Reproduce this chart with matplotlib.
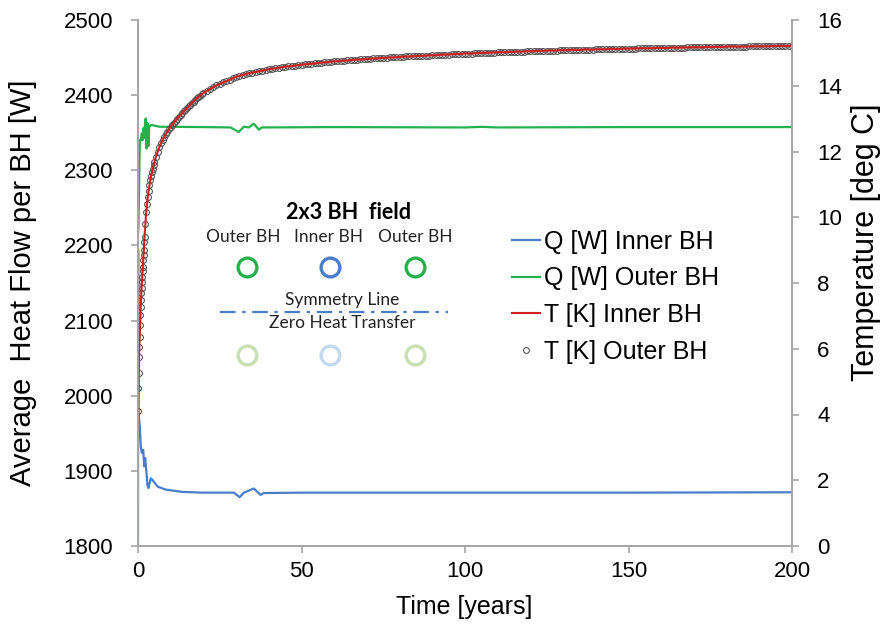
import matplotlib
matplotlib.use('Agg')
import matplotlib.pyplot as plt
from matplotlib.lines import Line2D

plt.rcParams['font.family'] = ['Liberation Sans', 'DejaVu Sans']

# --- data ---
# heat flow per borehole [W]
t_q_inner = [0, 0.05, 0.15, 0.55, 0.86, 1.16, 1.6, 1.9, 2.2, 2.6, 2.9, 3.2, 3.9, 4.4, 6.0, 8.5, 13.6, 20,
             29.3, 31.1, 32.4, 35.4, 37.5, 38.4, 50, 100, 150, 200]
q_inner = [1800, 2194, 1978, 1959, 1932, 1924, 1928, 1906, 1917, 1897, 1881, 1877, 1890, 1888, 1879, 1875, 1872, 1871,
           1871, 1865, 1871, 1876.5, 1868, 1870.5, 1871, 1871, 1871, 1871.5]

t_q_outer = [0, 0.15, 0.55, 0.86, 1.16, 1.4, 1.7, 1.9, 2.2, 2.4, 2.6, 2.9, 3.2, 3.4, 3.9, 4.4, 6.5, 20,
             28.3, 30.8, 32.4, 33.9, 35.4, 37.0, 37.8, 60, 100, 105, 110, 150, 200]
q_outer = [2215, 2226, 2340, 2340, 2349, 2340, 2356, 2343, 2367, 2369, 2329, 2363, 2332, 2358, 2360, 2360, 2358, 2357.5,
           2357, 2351, 2358, 2357, 2362, 2354, 2357, 2357.5, 2357, 2357.8, 2357, 2357.5, 2357.5]

# temperature [deg C]
t_temp = [0.0, 0.1, 0.2, 0.3, 0.4, 0.5, 0.6, 0.7, 0.8, 0.9,
          1.0, 1.1, 1.2, 1.3, 1.4, 1.5, 1.6, 1.7, 1.8, 1.9, 2.0,
          2.25, 2.5, 2.75, 3.0, 3.25, 3.5, 3.75, 4.0, 4.25, 4.5, 4.75, 5.0,
          5.5, 6.0, 6.5, 7.0, 7.5, 8.0, 8.5, 9.0, 9.5, 10.0,
          10.5, 11.0, 11.5, 12.0, 12.5, 13.0, 13.5, 14.0, 14.5, 15.0,
          15.5, 16.0, 16.5, 17.0, 17.5, 18.0, 18.5, 19.0, 19.5, 20.0] + list(range(21, 201))
temp_inner = [4.10, 4.80, 5.27, 5.76, 6.06, 6.37, 6.72, 7.03, 7.28, 7.48,
              7.69, 7.84, 8.02, 8.19, 8.35, 8.50, 8.70, 8.85, 9.00, 9.26, 9.40,
              9.80, 10.15, 10.40, 10.62, 10.80, 10.97, 11.12, 11.25, 11.37, 11.48, 11.58, 11.67,
              11.84, 11.99, 12.13, 12.25, 12.35, 12.44, 12.52, 12.60, 12.68, 12.75,
              12.82, 12.88, 12.94, 13.00, 13.06, 13.11, 13.17, 13.22, 13.27, 13.32,
              13.37, 13.42, 13.47, 13.52, 13.57, 13.62, 13.66, 13.70, 13.74, 13.78,
              13.84, 13.90, 13.96, 14.01, 14.05, 14.10, 14.14, 14.18, 14.23, 14.27,
              14.30, 14.33, 14.35, 14.38, 14.40, 14.42, 14.44, 14.46, 14.48, 14.50,
              14.52, 14.53, 14.55, 14.56, 14.58, 14.59, 14.60, 14.61, 14.63, 14.64,
              14.65, 14.66, 14.67, 14.68, 14.69, 14.70, 14.71, 14.72, 14.73, 14.74,
              14.75, 14.76, 14.76, 14.77, 14.78, 14.79, 14.79, 14.80, 14.81, 14.81,
              14.82, 14.83, 14.83, 14.84, 14.85, 14.85, 14.86, 14.86, 14.87, 14.88,
              14.88, 14.89, 14.89, 14.90, 14.90, 14.91, 14.91, 14.92, 14.92, 14.93,
              14.93, 14.94, 14.94, 14.95, 14.95, 14.96, 14.96, 14.97, 14.97, 14.98,
              14.98, 14.98, 14.99, 14.99, 15.00, 15.00, 15.00, 15.01, 15.01, 15.02,
              15.02, 15.02, 15.03, 15.03, 15.03, 15.04, 15.04, 15.04, 15.05, 15.05,
              15.05, 15.06, 15.06, 15.06, 15.07, 15.07, 15.07, 15.07, 15.08, 15.08,
              15.08, 15.09, 15.09, 15.09, 15.09, 15.10, 15.10, 15.10, 15.10, 15.11,
              15.11, 15.11, 15.11, 15.12, 15.12, 15.12, 15.12, 15.12, 15.13, 15.13,
              15.13, 15.13, 15.14, 15.14, 15.14, 15.14, 15.14, 15.15, 15.15, 15.15,
              15.15, 15.15, 15.16, 15.16, 15.16, 15.16, 15.16, 15.17, 15.17, 15.17,
              15.17, 15.17, 15.17, 15.18, 15.18, 15.18, 15.18, 15.18, 15.18, 15.19,
              15.19, 15.19, 15.19, 15.19, 15.19, 15.19, 15.20, 15.20, 15.20, 15.20,
              15.20, 15.20, 15.20, 15.21, 15.21, 15.21, 15.21, 15.21, 15.21, 15.21]
temp_outer = temp_inner  # both boreholes lie on top of each other

x_ticks = [0, 50, 100, 150, 200]
q_ticks = [1800, 1900, 2000, 2100, 2200, 2300, 2400, 2500]
t_ticks = [0, 2, 4, 6, 8, 10, 12, 14, 16]

blue = '#4a7dc9'
green = '#23b14d'
red = '#d01f1f'
grey = '#a6a6a6'

fig = plt.figure(figsize=(8.8, 6.26), dpi=100)
ax = fig.add_axes([138 / 880, 1 - 546 / 626, 654 / 880, 526 / 626])
ax2 = ax.twinx()

l1, = ax.plot(t_q_inner, q_inner, color=blue, lw=1.6, label='Q [W] Inner BH')
l2, = ax.plot(t_q_outer, q_outer, color=green, lw=1.6, label='Q [W] Outer BH')
l4, = ax2.plot(t_temp, temp_outer, ls='none', marker='o', ms=4.2, mfc='none', mec='#555555', mew=0.8,
               label='T [K] Outer BH')
l3, = ax2.plot(t_temp, temp_inner, color=red, lw=1.5, label='T [K] Inner BH')

ax.set_xlim(0, 200)
ax.set_ylim(1800, 2500)
ax2.set_ylim(0, 16)
ax.set_xticks(x_ticks)
ax.set_yticks(q_ticks)
ax2.set_yticks(t_ticks)

for a in (ax, ax2):
    a.spines['top'].set_visible(False)
    for s in ('left', 'right', 'bottom'):
        a.spines[s].set_color(grey)
        a.spines[s].set_linewidth(1.3)
    a.tick_params(colors=grey, labelcolor='black', labelsize=16, length=5, width=1.2, direction='out')
ax.tick_params(axis='y', pad=13)
ax2.tick_params(axis='y', pad=13)
ax.tick_params(axis='x', pad=6)

ax.set_xlabel('Time [years]', fontsize=18)
ax.set_ylabel('Average  Heat Flow per BH [W]', fontsize=21)
ax2.set_ylabel('Temperature [deg C]', fontsize=22)
ax.xaxis.set_label_coords(0.498, -0.093)
ax.yaxis.set_label_coords(-0.154, 0.5)
ax2.yaxis.set_label_coords(1.090, 0.578)

leg = ax2.legend(handles=[l1, l2, l3, l4], loc='upper left', bbox_to_anchor=(512 / 880, 1 - 230 / 626),
                 bbox_transform=fig.transFigure, frameon=False, fontsize=18, handlelength=1.1,
                 handletextpad=0.2, labelspacing=0.5, borderpad=0, borderaxespad=0)

# --- borehole field sketch ---
inset_font = ['Lato', 'DejaVu Sans']
fig.text(348 / 880, 1 - 213 / 626, '2x3 BH  field', fontsize=15.5, fontweight='bold', family=inset_font,
         ha='center', va='center')
for xx, name in [(243, 'Outer BH'), (329, 'Inner BH'), (415, 'Outer BH')]:
    fig.text(xx / 880, 1 - 237 / 626, name, fontsize=12.5, family=inset_font, ha='center', va='center',
             color='#222222')
for xx, c in [(247, green), (330, blue), (415, green)]:
    fig.add_artist(Line2D([xx / 880], [1 - 267 / 626], transform=fig.transFigure, marker='o', ms=13.5,
                          mfc='none', mec=c, mew=2.4))
for xx, c in [(247, '#c8dfb2'), (330, '#c4d8f0'), (415, '#c8dfb2')]:
    fig.add_artist(Line2D([xx / 880], [1 - 355 / 626], transform=fig.transFigure, marker='o', ms=13.5,
                          mfc='none', mec=c, mew=2.4))
fig.add_artist(Line2D([220 / 880, 448 / 880], [1 - 312 / 626, 1 - 312 / 626], transform=fig.transFigure,
                      color=blue, lw=1.6, ls=(0, (7, 3, 1.5, 3))))
fig.text(342 / 880, 1 - 300 / 626, 'Symmetry Line', fontsize=12.5, family=inset_font, ha='center',
         va='center', color='#222222')
fig.text(342 / 880, 1 - 323 / 626, 'Zero Heat Transfer', fontsize=12.5, family=inset_font, ha='center',
         va='center', color='#222222')

fig.savefig('out.png', dpi=100)
